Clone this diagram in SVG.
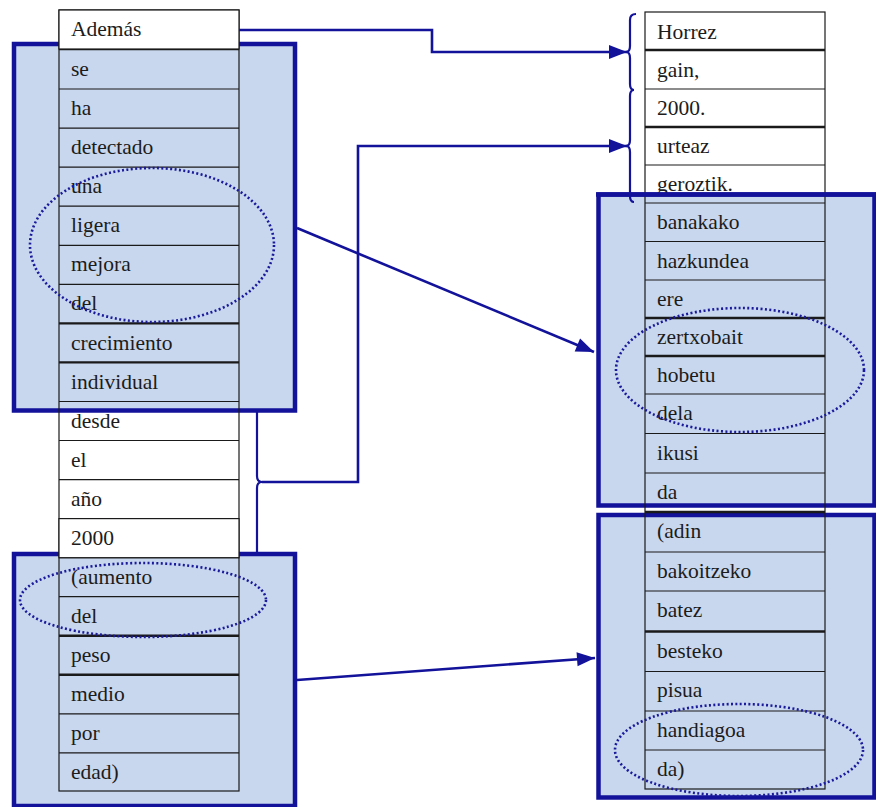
<svg xmlns="http://www.w3.org/2000/svg" width="876" height="807" viewBox="0 0 876 807">
<style>
.box{fill:#c8d7ee;stroke:#12129a;stroke-width:4.5}
.cell{fill:none;stroke:#1a1a1a;stroke-width:1.2}
.wcell{fill:#ffffff;stroke:#1a1a1a;stroke-width:1.2}
.thick{stroke:#1a1a1a;stroke-width:2.4}
text{font-family:"Liberation Serif","DejaVu Serif",serif;font-size:21.5px;fill:#1c1c1c}
.ell{fill:none;stroke:#1a1a9a;stroke-width:2.6;stroke-dasharray:2 2.4}
.con{fill:none;stroke:#12129a;stroke-width:2.6}
.brace{fill:none;stroke:#12129a;stroke-width:2.2}
</style>
<defs>
<marker id="ah" markerUnits="userSpaceOnUse" markerWidth="20" markerHeight="16" refX="18" refY="7" orient="auto" overflow="visible">
<path d="M0,0 L18,7 L0,14 z" fill="#12129a"/>
</marker>
</defs>
<rect width="876" height="807" fill="#ffffff"/>

<!-- highlight boxes -->
<g id="box-left-top"><rect class="box" x="14" y="44" width="281" height="366.5"/></g>
<g id="box-left-bottom"><rect class="box" x="14" y="554" width="281" height="252"/></g>
<g id="box-right-top"><rect class="box" x="598.5" y="194.5" width="276" height="311"/></g>
<g id="box-right-bottom"><rect class="box" x="598.5" y="515" width="276" height="282.5"/></g>

<!-- left table -->
<g id="table-left" font-family="Liberation Serif, DejaVu Serif, serif">
<rect class="cell" x="59" y="10" width="180" height="781"/>
<g class="cell">
<line x1="59" x2="239" y1="89" y2="89"/>
<line x1="59" x2="239" y1="128.2" y2="128.2"/>
<line x1="59" x2="239" y1="167.2" y2="167.2"/>
<line x1="59" x2="239" y1="206.2" y2="206.2"/>
<line x1="59" x2="239" y1="245.3" y2="245.3"/>
<line x1="59" x2="239" y1="284.3" y2="284.3"/>
<line x1="59" x2="239" y1="401.5" y2="401.5"/>
<line x1="59" x2="239" y1="440.5" y2="440.5"/>
<line x1="59" x2="239" y1="479.6" y2="479.6"/>
<line x1="59" x2="239" y1="518.6" y2="518.6"/>
<line x1="59" x2="239" y1="557.7" y2="557.7"/>
<line x1="59" x2="239" y1="596.7" y2="596.7"/>
<line x1="59" x2="239" y1="713.9" y2="713.9"/>
<line x1="59" x2="239" y1="752.9" y2="752.9"/>
</g>
<g class="thick">
<line x1="59" x2="239" y1="49" y2="49"/>
<line x1="59" x2="239" y1="323.4" y2="323.4"/>
<line x1="59" x2="239" y1="362.4" y2="362.4"/>
<line x1="59" x2="239" y1="635.8" y2="635.8"/>
<line x1="59" x2="239" y1="674.8" y2="674.8"/>
</g>
<text x="71" y="75.5">se</text>
<text x="71" y="114.5">ha</text>
<text x="71" y="154">detectado</text>
<text x="71" y="193">una</text>
<text x="71" y="232">ligera</text>
<text x="71" y="271">mejora</text>
<text x="71" y="310">del</text>
<text x="71" y="349.5">crecimiento</text>
<text x="71" y="388.5">individual</text>
<text x="71" y="427.5">desde</text>
<text x="71" y="466.5">el</text>
<text x="71" y="505.5">año</text>
<text x="71" y="583.5">(aumento</text>
<text x="71" y="622.5">del</text>
<text x="71" y="662">peso</text>
<text x="71" y="701">medio</text>
<text x="71" y="740">por</text>
<text x="71" y="779">edad)</text>
</g>
<g id="cell-ademas">
<rect class="wcell" x="59" y="10" width="180" height="39"/>
<text x="71" y="36">Además</text>
</g>
<g id="cell-2000">
<rect class="wcell" x="59" y="518.6" width="180" height="39.1"/>
<text x="71" y="544.5">2000</text>
</g>

<!-- right table -->
<g id="table-right">
<rect class="cell" x="645" y="12" width="180" height="777"/>
<g class="cell">
<line x1="645" x2="825" y1="89" y2="89"/>
<line x1="645" x2="825" y1="165" y2="165"/>
<line x1="645" x2="825" y1="203" y2="203"/>
<line x1="645" x2="825" y1="241.5" y2="241.5"/>
<line x1="645" x2="825" y1="280" y2="280"/>
<line x1="645" x2="825" y1="394" y2="394"/>
<line x1="645" x2="825" y1="433.5" y2="433.5"/>
<line x1="645" x2="825" y1="473" y2="473"/>
<line x1="645" x2="825" y1="552" y2="552"/>
<line x1="645" x2="825" y1="591" y2="591"/>
<line x1="645" x2="825" y1="671.5" y2="671.5"/>
<line x1="645" x2="825" y1="711" y2="711"/>
<line x1="645" x2="825" y1="750" y2="750"/>
</g>
<g class="thick">
<line x1="645" x2="825" y1="50" y2="50"/>
<line x1="645" x2="825" y1="127" y2="127"/>
<line x1="645" x2="825" y1="318" y2="318"/>
<line x1="645" x2="825" y1="356" y2="356"/>
<line x1="645" x2="825" y1="512" y2="512"/>
<line x1="645" x2="825" y1="631.5" y2="631.5"/>
</g>
<text x="657" y="38.5">Horrez</text>
<text x="657" y="76.5">gain,</text>
<text x="657" y="115">2000.</text>
<text x="657" y="153">urteaz</text>
<text x="657" y="191">geroztik.</text>
<text x="657" y="229">banakako</text>
<text x="657" y="267.5">hazkundea</text>
<text x="657" y="306">ere</text>
<text x="657" y="344">zertxobait</text>
<text x="657" y="382">hobetu</text>
<text x="657" y="420">dela</text>
<text x="657" y="459.5">ikusi</text>
<text x="657" y="499">da</text>
<text x="657" y="538">(adin</text>
<text x="657" y="578">bakoitzeko</text>
<text x="657" y="617">batez</text>
<text x="657" y="657.5">besteko</text>
<text x="657" y="697">pisua</text>
<text x="657" y="736.5">handiagoa</text>
<text x="657" y="775.5">da)</text>
</g>
<g id="box-right-top-edge"><line x1="596" x2="876" y1="194.5" y2="194.5" stroke="#12129a" stroke-width="4.5"/></g>

<!-- dotted ellipses -->
<g id="ellipse-una-del"><ellipse class="ell" cx="152" cy="245" rx="122" ry="77"/></g>
<g id="ellipse-aumento-del"><ellipse class="ell" cx="143" cy="600" rx="123" ry="37"/></g>
<g id="ellipse-zertxobait-dela"><ellipse class="ell" cx="740" cy="370" rx="124" ry="62"/></g>
<g id="ellipse-handiagoa-da"><ellipse class="ell" cx="739" cy="750" rx="124" ry="46"/></g>

<!-- connectors -->
<g id="connectors">
<path class="brace" d="M636,14 Q630,14 630,20 V46 Q630,52 626,52 Q630,52 630,58 V84 Q630,90 634,90 Q630,90 630,96 V140 Q630,146 626,146 Q630,146 630,152 V196 Q630,202 634,202"/>
<path class="brace" d="M257,412 V476 Q257,482 262,482 Q257,482 257,488 V553"/>
<path class="con" d="M239,30 H432 V52 H627" marker-end="url(#ah)"/>
<path class="con" d="M262,482 H358 V146 H627" marker-end="url(#ah)"/>
<path class="con" d="M297,228 L594,352" marker-end="url(#ah)"/>
<path class="con" d="M297,680 L595,658" marker-end="url(#ah)"/>
</g>
</svg>
